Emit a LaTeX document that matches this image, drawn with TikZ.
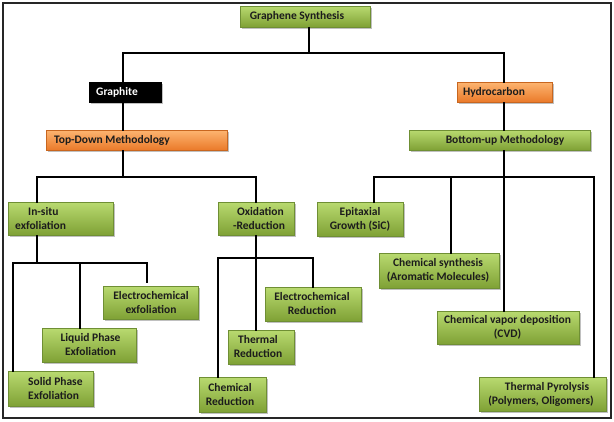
\documentclass[tikz,border=0pt]{standalone}
\usepackage{fontspec}
\setmainfont{Carlito}
\usetikzlibrary{shadows,calc}
\definecolor{gtop}{HTML}{B9DA70}
\definecolor{gbot}{HTML}{7FA135}
\definecolor{gedge}{HTML}{6F8F34}
\definecolor{otop}{HTML}{FDB571}
\definecolor{obot}{HTML}{EA7A2A}
\definecolor{oedge}{HTML}{C8661F}
\definecolor{txtc}{HTML}{1C1C1C}
\tikzset{
  boxbase/.style={rectangle, inner sep=0pt, line width=0.5pt,
    drop shadow={shadow xshift=1.5pt, shadow yshift=-1.8pt, opacity=0.35, fill=black!70}},
  gbox/.style={boxbase, draw=gedge, top color=gtop, bottom color=gbot},
  obox/.style={boxbase, draw=oedge, top color=otop, bottom color=obot},
  kbox/.style={boxbase, draw=black, fill=black},
  txt/.style={inner sep=0pt, font=\bfseries\fontsize{11.5}{14}\selectfont, text=txtc, align=center},
  wtxt/.style={txt, text=white},
  conn/.style={draw=black, line width=1.5pt, line cap=rect},
}
\newcommand{\boxat}[6]{% style, name, x1, x2, y1, y2
  \node[#1, minimum width={(#4-#3)*1pt}, minimum height={(#6-#5)*1pt}] (#2) at ({(#3+#4)/2},{(#5+#6)/2}) {};}
\begin{document}
\begin{tikzpicture}[x=1pt,y=-1pt]
\useasboundingbox (0,0) rectangle (614,421);
\fill[white] (0,0) rectangle (614,421);
\draw[line width=2pt, draw=black!85] (2.5,2.5) rectangle (611,418);

% boxes
\boxat{gbox}{gs}{240}{370}{6}{27}
\boxat{kbox}{graphite}{89}{161}{82}{102}
\boxat{obox}{hydro}{457}{552}{82}{102}
\boxat{obox}{td}{46}{227}{130}{150}
\boxat{gbox}{bu}{409}{590}{130}{150}
\boxat{gbox}{insitu}{8}{113}{202}{235}
\boxat{gbox}{oxred}{218}{294}{202}{235}
\boxat{gbox}{elecex}{103}{198}{286}{319}
\boxat{gbox}{liquid}{42}{136}{328}{362}
\boxat{gbox}{solid}{8}{93}{371}{406}
\boxat{gbox}{thermal}{228}{294}{330}{364}
\boxat{gbox}{chemred}{199}{266}{377}{412}
\boxat{gbox}{elecred}{265}{361}{287}{321}
\boxat{gbox}{epi}{317}{403}{202}{236}
\boxat{gbox}{chemsyn}{379}{499}{253}{288}
\boxat{gbox}{cvd}{437}{579}{311}{344}
\boxat{gbox}{pyro}{479}{606}{377}{411}

% texts
\node[txt] (gs-t) at (297,16.5) {Graphene Synthesis};
\node[wtxt] (graphite-t) at (117,92) {Graphite};
\node[txt] (hydro-t) at (494,92) {Hydrocarbon};
\node[txt] (td-t) at (112,140) {Top-Down Methodology};
\node[txt] (bu-t) at (505,140) {Bottom-up Methodology};
\node[txt, anchor=west, align=left] (insitu-t) at (15,218.5) {\hspace*{13pt}In-situ\\exfoliation};
\node[txt] (oxred-t) at (259,218.5) {\hspace*{3pt}Oxidation\\-Reduction};
\node[txt] (elecex-t) at (151,302.5) {Electrochemical\\exfoliation};
\node[txt] (liquid-t) at (90.5,345) {Liquid Phase\\Exfoliation};
\node[txt, anchor=west, align=left] (solid-t) at (28,388.5) {Solid Phase\\Exfoliation};
\node[txt] (thermal-t) at (258,347) {Thermal\\Reduction};
\node[txt] (chemred-t) at (230,394.5) {Chemical\\Reduction};
\node[txt] (elecred-t) at (312,304) {Electrochemical\\Reduction};
\node[txt] (epi-t) at (360,219) {Epitaxial\\Growth (SiC)};
\node[txt] (chemsyn-t) at (438,270.5) {Chemical synthesis\\(Aromatic Molecules)};
\node[txt] (cvd-t) at (507.5,327.5) {Chemical vapor deposition\\(CVD)};
\node[txt] (pyro-t) at (541,394) {\hspace*{12pt}Thermal Pyrolysis\\(Polymers, Oligomers)};

% junction coordinates
\coordinate (j0) at (309,53);
\coordinate (jL) at (123,53);
\coordinate (jR) at (504,53);
\coordinate (k0) at (123,177);
\coordinate (k1) at (37,177);
\coordinate (k2) at (256,177);
\coordinate (m0) at (37,263);
\coordinate (m1) at (13,263);
\coordinate (m2) at (80,263);
\coordinate (m3) at (147,263);
\coordinate (n0) at (256,258);
\coordinate (n1) at (218,258);
\coordinate (n2) at (313,258);
\coordinate (p0) at (504,177);
\coordinate (p1) at (374,177);
\coordinate (p2) at (451,177);
\coordinate (p3) at (594,177);

% connectors
\draw[conn] (j0 |- gs.south) -- (j0);
\draw[conn] (jL |- graphite.north) -- (jL) -- (jR) -- (jR |- hydro.north);
\draw[conn] (jL |- graphite.south) -- (jL |- td.north);
\draw[conn] (jR |- hydro.south) -- (jR |- bu.north);

\draw[conn] (k0 |- td.south) -- (k0);
\draw[conn] (k1 |- insitu.north) -- (k1) -- (k2) -- (k2 |- oxred.north);

\draw[conn] (m0 |- insitu.south) -- (m0);
\draw[conn] (m1 |- solid.north) -- (m1) -- (m3) -- ($(m3 |- elecex.north)+(0,-4)$);
\draw[conn] (m2) -- (m2 |- liquid.north);

\draw[conn] (n0 |- oxred.south) -- (n0 |- thermal.north);
\draw[conn] (n1 |- chemred.north) -- (n1) -- (n2) -- (n2 |- elecred.north);

\draw[conn] (p0 |- bu.south) -- (p0 |- cvd.north);
\draw[conn] (p1 |- epi.north) -- (p1) -- (p3) -- (p3 |- pyro.north);
\draw[conn] (p2) -- (p2 |- chemsyn.north);
\end{tikzpicture}
\end{document}
